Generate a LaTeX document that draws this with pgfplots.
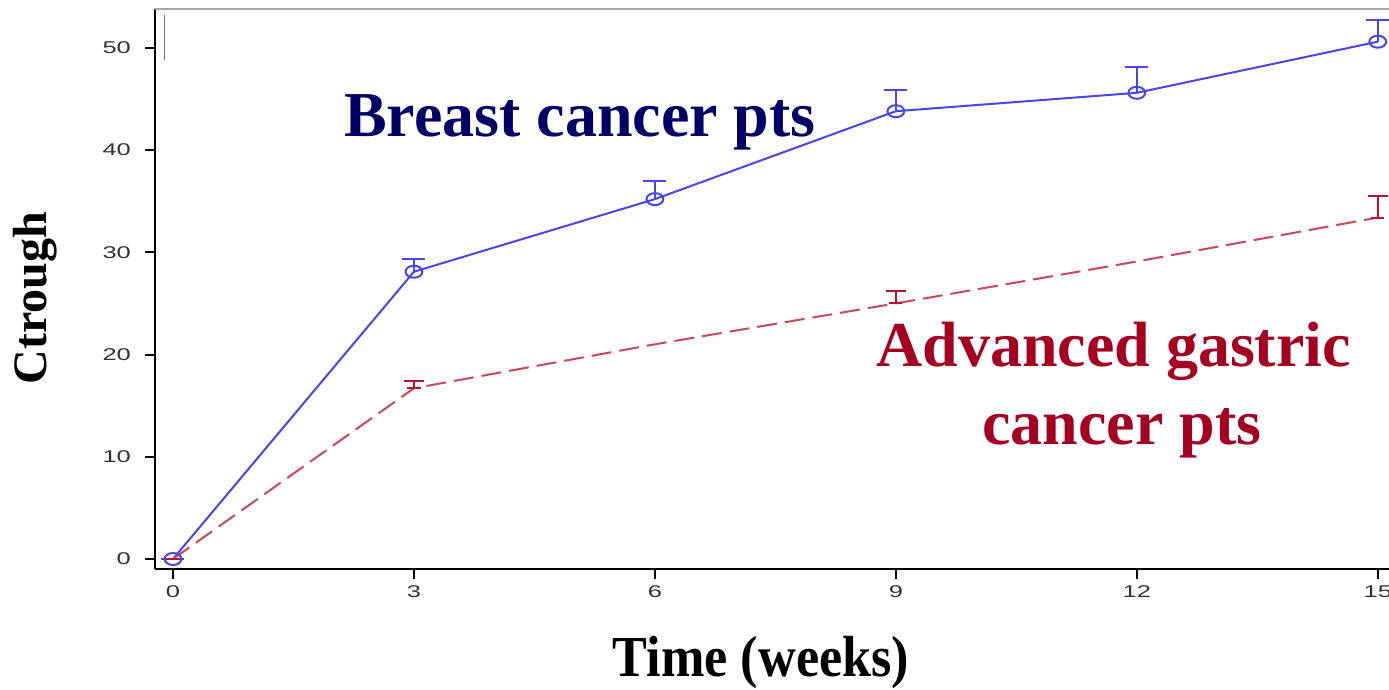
\documentclass[border=0pt]{standalone}
\usepackage{fontspec}
\setmainfont{Liberation Serif}
\newfontfamily\tickfont{Liberation Sans}
\usepackage{pgfplots}
\pgfplotsset{compat=1.18}
\definecolor{bluel}{RGB}{70,70,235}
\definecolor{redl}{RGB}{205,70,90}
\definecolor{rederr}{RGB}{180,20,45}
\definecolor{navytxt}{RGB}{0,0,102}
\definecolor{redtxt}{RGB}{165,0,33}
\definecolor{ticktxt}{RGB}{50,50,50}
\begin{document}
\begin{tikzpicture}
\path[use as bounding box] (-77.5pt,-60.5pt) rectangle (617pt,284.5pt);
\begin{axis}[
  at={(0,0)}, anchor=south west,
  scale only axis, width=617pt, height=280pt,
  xmin=-0.224, xmax=15.14, ymin=-0.98, ymax=53.8,
  axis x line*=bottom, axis y line*=left,
  axis line style={-, line width=1pt, black},
  xtick={0,3,6,9,12,15}, ytick={0,10,20,30,40,50},
  tick align=outside,
  major tick length=5pt,
  every tick/.style={line width=1pt, black},
  xticklabel={\scalebox{1.5}[1]{\pgfmathprintnumber[assume math mode=true]{\tick}}},
  yticklabel={\scalebox{1.5}[1]{\pgfmathprintnumber[assume math mode=true]{\tick}}},
  every tick label/.append style={font=\tickfont\fontsize{8.5}{10}\selectfont, text=ticktxt},
  yticklabel style={xshift=-3.5pt},
  clip=false,
]
% Breast cancer
\addplot[bluel, line width=1pt, mark=o, mark size=3pt, mark options={xscale=1.4, solid},
  error bars/.cd, y dir=plus, y explicit,
  error bar style={line width=1pt, bluel},
  error mark options={rotate=90, mark size=5.75pt, line width=1pt, bluel}]
  table[x=x, y=y, y error=e] {
  x  y    e
  0  0    0
  3  28.1 1.2
  6  35.2 1.8
  9  43.8 2.1
  12 45.6 2.5
  15 50.6 2.1
};
% Advanced gastric: line
\addplot[redl, line width=1pt, dash pattern=on 10pt off 4pt, mark=none]
  table[x=x, y=y] {
  x  y
  0  0
  3  16.7
  6  21.0
  9  25.0
  12 29.1
  15 33.4
};
% Advanced gastric: marks with error bars
\addplot[draw=none, rederr, mark=-, mark size=3.3pt, mark options={solid, line width=1pt, rederr},
  error bars/.cd, y dir=plus, y explicit,
  error bar style={line width=1pt, rederr, solid},
  error mark options={rotate=90, mark size=5pt, line width=1pt, rederr}]
  table[x=x, y=y, y error=e] {
  x  y    e
  0  0    0
  3  16.7 0.7
  9  25.0 1.2
  15 33.4 2.1
};
\end{axis}
\draw[black!35, line width=1pt] (0,280pt) -- (617pt,280pt);
\draw[black!55, line width=0.5pt] (5pt,254.5pt) -- (5pt,277pt);
\node[anchor=base, text=navytxt, font=\fontsize{32}{36}\selectfont\bfseries] at (212.5pt,216pt) {Breast cancer pts};
\node[anchor=base, text=redtxt, font=\fontsize{32}{36}\selectfont\bfseries] at (479.3pt,101pt) {Advanced gastric};
\node[anchor=base, text=redtxt, font=\fontsize{32}{36}\selectfont\bfseries] at (483.5pt,62pt) {cancer pts};
\node[anchor=base, inner sep=0pt, text=black, font=\fontsize{29}{34}\selectfont\bfseries] at (303pt,-54pt) {\scalebox{0.9}[1]{Time (weeks)}};
\node[anchor=base, rotate=90, text=black, font=\fontsize{24}{28}\selectfont\bfseries] at (-54pt,135.5pt) {Ctrough};
\end{tikzpicture}
\end{document}
